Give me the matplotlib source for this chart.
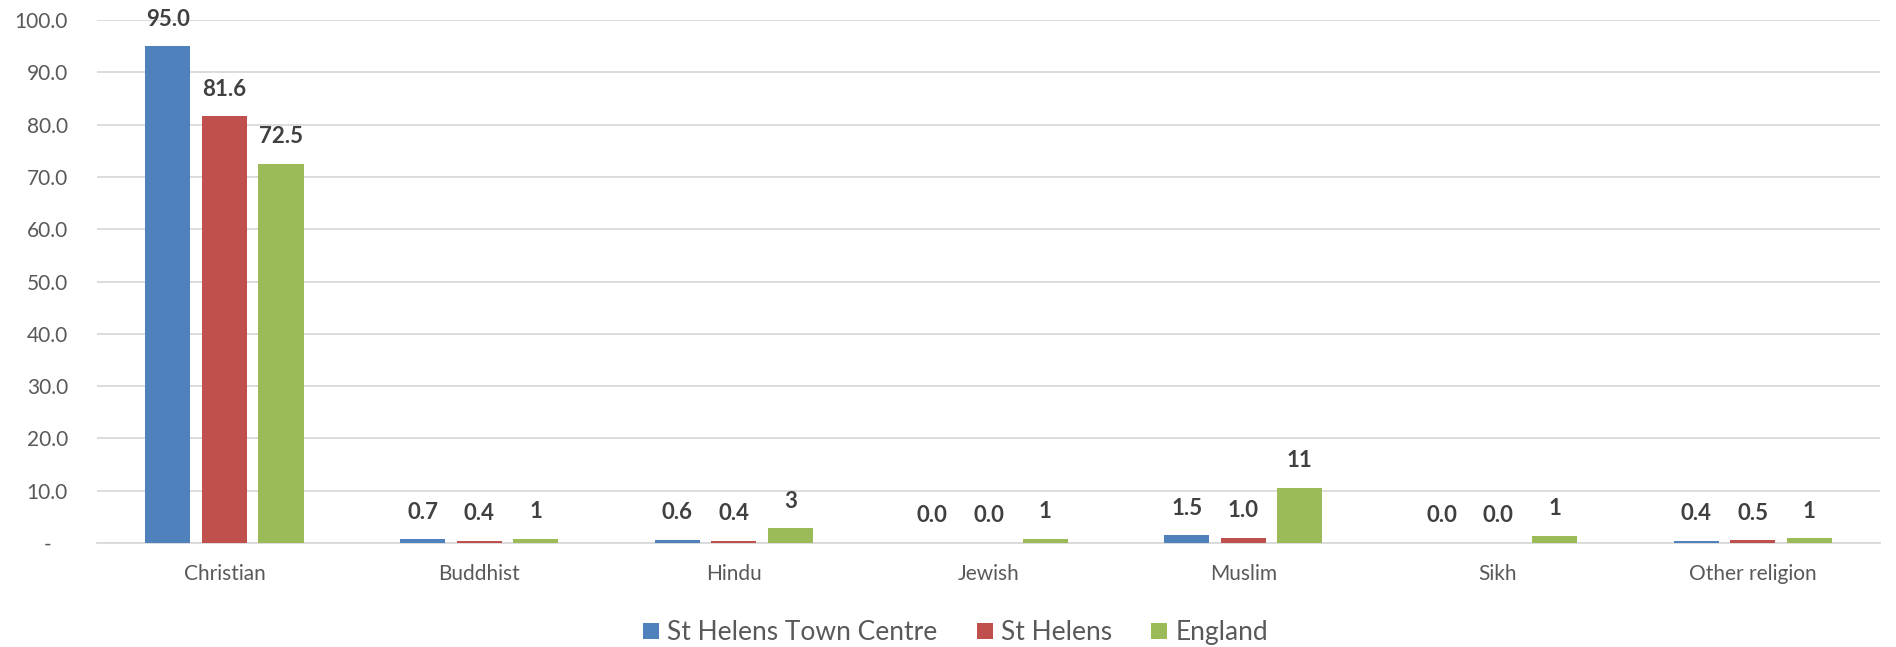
import matplotlib
matplotlib.use('Agg')
import matplotlib.pyplot as plt
import numpy as np
from matplotlib.ticker import FuncFormatter

plt.rcParams['font.family'] = ['Lato', 'DejaVu Sans']

# data
categories = ["Christian", "Buddhist", "Hindu", "Jewish", "Muslim", "Sikh", "Other religion"]
town_centre = [95.0, 0.7, 0.6, 0.0, 1.5, 0.0, 0.4]
st_helens = [81.6, 0.4, 0.4, 0.0, 1.0, 0.0, 0.5]
england = [72.5, 0.8, 2.8, 0.8, 10.6, 1.4, 0.9]
series_names = ["St Helens Town Centre", "St Helens", "England"]
colors = ["#4F81BD", "#C0504D", "#9BBB59"]

# the data labels as printed (England mostly rounded to whole numbers)
town_centre_labels = [f"{v:.1f}" for v in town_centre]
st_helens_labels = [f"{v:.1f}" for v in st_helens]
england_labels = ["72.5", "1", "3", "1", "11", "1", "1"]

fig = plt.figure(figsize=(18.96, 6.47), dpi=100)
ax = fig.add_axes([0.0512, 0.1607, 0.9404, 0.8083])

x = np.arange(len(categories))
width = 0.177
step = 0.222
all_vals = [town_centre, st_helens, england]
all_labels = [town_centre_labels, st_helens_labels, england_labels]
for i, (vals, labs, name, col) in enumerate(zip(all_vals, all_labels, series_names, colors)):
    pos = x + (i - 1) * step
    bars = ax.bar(pos, vals, width, color=col, label=name, zorder=3)
    for b, v, lab in zip(bars, vals, labs):
        ax.annotate(lab, (b.get_x() + b.get_width() / 2, v),
                    xytext=(0, 19.5), textcoords='offset points',
                    ha='center', va='center', fontsize=16, fontweight='bold',
                    color='#404040', annotation_clip=False)

ax.set_xlim(-0.5, len(categories) - 0.5)
ax.set_ylim(0, 100)
ax.set_yticks(np.arange(0, 101, 10))
ax.yaxis.set_major_formatter(FuncFormatter(lambda v, p: "-   " if v == 0 else f"{v:.1f}"))
ax.set_xticks(x)
ax.set_xticklabels(categories)
ax.tick_params(axis='both', length=0, labelsize=15, colors='#595959')
ax.tick_params(axis='x', pad=15)
ax.tick_params(axis='y', pad=21)
ax.grid(axis='y', color='#D9D9D9', linewidth=1.3, zorder=0)
for s in ['top', 'right', 'left']:
    ax.spines[s].set_visible(False)
ax.spines['bottom'].set_color('#D9D9D9')
ax.spines['bottom'].set_linewidth(1.3)

fig.legend(loc='center', bbox_to_anchor=(0.504, 0.022), ncol=3, frameon=False,
           fontsize=19, labelcolor='#595959', handlelength=0.6, handleheight=0.6,
           handletextpad=0.3, columnspacing=1.5)

fig.savefig("out.png", dpi=100)
